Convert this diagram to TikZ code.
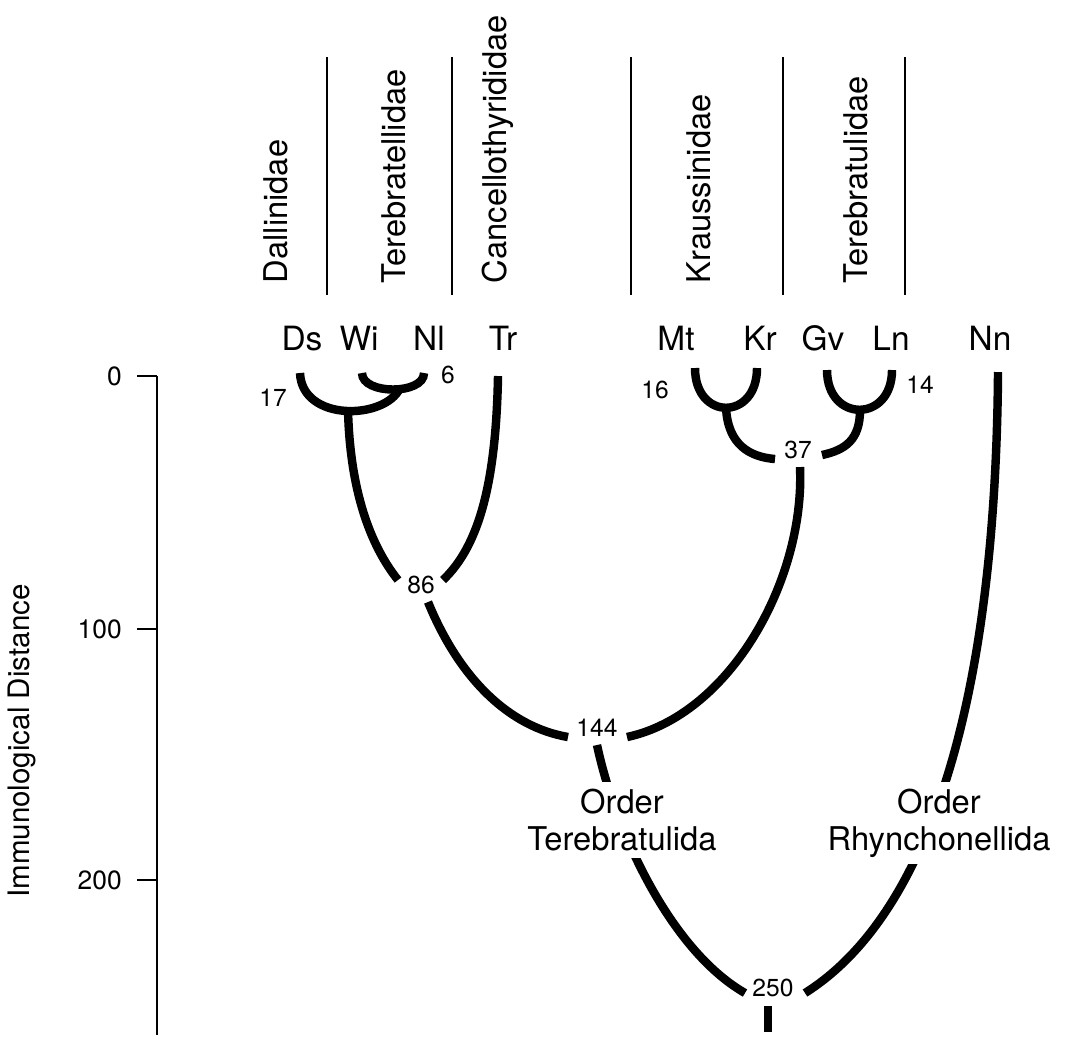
\documentclass[tikz,border=0pt]{standalone}
\usepackage{fontspec}
\setmainfont{TeX Gyre Heros}
\begin{document}
\begin{tikzpicture}[x=0.01cm, y=-0.01cm,
  branch/.style = {line width=2.4pt},
  divider/.style = {line width=0.5pt},
  axisline/.style = {line width=0.7pt},
  taxon/.style = {anchor=base, inner sep=0pt, font=\fontsize{9.5}{11}\selectfont},
  family/.style = {rotate=90, anchor=base west, inner sep=0pt, font=\fontsize{9.3}{11}\selectfont},
  dist/.style = {inner sep=0pt, font=\fontsize{7}{8}\selectfont},
  order/.style = {anchor=north, align=center, fill=white, inner sep=2pt, font=\fontsize{9.3}{10.5}\selectfont}]
\useasboundingbox (0,0) rectangle (1071,1041);

% distance axis
\coordinate (ytop) at (157,376);
\coordinate (ybot) at (157,1035);
\draw[axisline] (ytop) -- (ybot);
\foreach \d/\y in {0/376,100/629,200/880} {
  \coordinate (tick\d) at (157,\y);
  \draw[axisline] (tick\d) -- ++(-20,0) node[left=4pt, dist, font=\fontsize{7.5}{9}\selectfont] (lab\d) {\d};
}
\node[rotate=90, font=\fontsize{8.4}{10}\selectfont] (ytitle) at (22,741) {Immunological Distance};

% families
\foreach \x in {327,452,631,783,905} \draw[divider] (\x,57) -- (\x,295);
\node[family] (dal) at (287,284) {Dallinidae};
\node[family] (tel) at (405,284) {Terebratellidae};
\node[family] (can) at (506,284) {Cancellothyrididae};
\node[family] (kra) at (710,284) {Kraussinidae};
\node[family] (tul) at (867,284) {Terebratulidae};

% taxa
\foreach \n/\x in {Ds/302,Wi/359,Nl/429,Tr/503,Mt/676,Kr/760,Gv/823,Ln/891,Nn/990}
  \node[taxon] (\n) at (\x,350) {\n};

% branch tips and junctions
\coordinate (tDs) at (300,373);
\coordinate (tWi) at (362,373);
\coordinate (tNl) at (424,373);
\coordinate (tTr) at (498,376);
\coordinate (tMt) at (695,368);
\coordinate (tKr) at (757,368);
\coordinate (tGv) at (827,370);
\coordinate (tLn) at (892,370);
\coordinate (tNn) at (998,372);
\coordinate (jWN) at (400,388);
\coordinate (jDW) at (348,410);
\coordinate (jMK) at (726,408);
\coordinate (jGL) at (860,410);
\coordinate (e86a) at (398,580);
\coordinate (e86b) at (443,580);
\coordinate (e86c) at (428,602);
\coordinate (e37a) at (775,459);
\coordinate (e37b) at (822,455);
\coordinate (e37c) at (800,467);
\coordinate (e144a) at (568,737);
\coordinate (e144b) at (627,737);
\coordinate (e144c) at (597,745);
\coordinate (e250a) at (745,993);
\coordinate (e250b) at (805,993);
\coordinate (e250c) at (768,1006);
\coordinate (root) at (768,1032);

% distances
\node[dist] (d17) at (273,398) {17};
\node[dist] (d6) at (448,375) {6};
\node[dist] (d16) at (655,390) {16};
\node[dist] (d14) at (920,385) {14};
\node[dist] (n86) at (421,585) {86};
\node[dist] (n37) at (798,450) {37};
\node[dist] (n144) at (597,728) {144};
\node[dist] (n250) at (773,988) {250};

% tree
\draw[branch] (tWi) .. controls (362,395) and (424,395) .. (tNl);
\draw[branch] (tDs) .. controls (302,422) and (385,420) .. (jWN);
\draw[branch] (jDW) .. controls (350,490) and (370,545) .. (e86a);
\draw[branch] (tTr) .. controls (496,480) and (480,545) .. (e86b);
\draw[branch] (e86c) .. controls (460,680) and (510,727) .. (e144a);
\draw[branch] (tMt) .. controls (695,421) and (757,421) .. (tKr);
\draw[branch] (tGv) .. controls (827,423) and (892,423) .. (tLn);
\draw[branch] (jMK) .. controls (728,445) and (750,457) .. (e37a);
\draw[branch] (jGL) .. controls (860,440) and (845,450) .. (e37b);
\draw[branch] (e144b) .. controls (730,715) and (805,580) .. (e37c);
\draw[branch] (e144c) .. controls (615,830) and (670,950) .. (e250a);
\draw[branch] (tNn) .. controls (995,760) and (905,930) .. (e250b);
\draw[branch] (e250c) -- (root);

% orders
\node[order] (terb) at (622,781) {Order\\Terebratulida};
\node[order] (rhyn) at (939,781) {Order\\Rhynchonellida};
\end{tikzpicture}
\end{document}
